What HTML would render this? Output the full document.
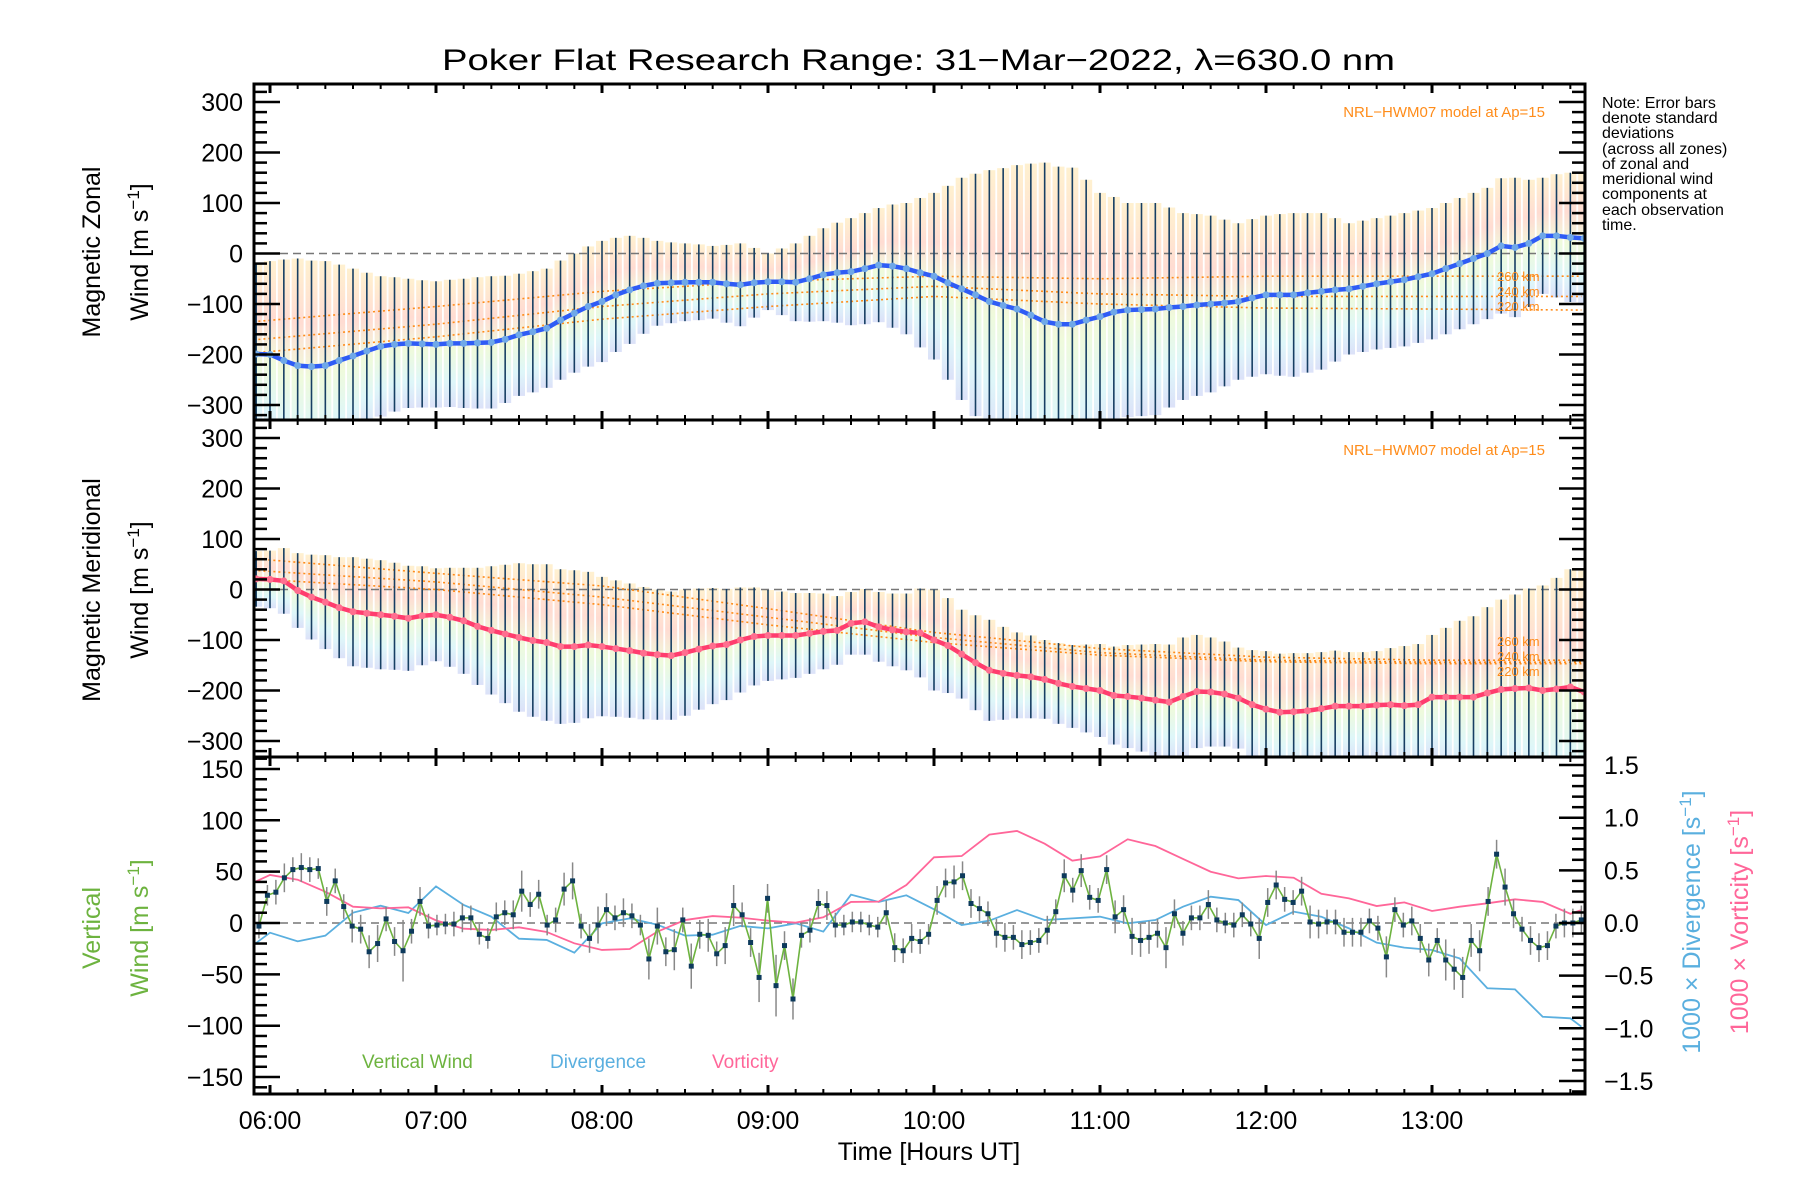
<!DOCTYPE html>
<html><head><meta charset="utf-8"><style>
html,body{margin:0;padding:0;background:#fff;}
svg{display:block;font-family:"Liberation Sans",sans-serif;}
</style></head><body>
<svg id="chart" width="1800" height="1200" viewBox="0 0 1800 1200" xmlns="http://www.w3.org/2000/svg">
<defs>
<clipPath id="clipTop"><rect x="254" y="84" width="1331" height="336"/></clipPath>
<clipPath id="clipMid"><rect x="254" y="420" width="1331" height="337"/></clipPath>
<clipPath id="clipBot"><rect x="254" y="757" width="1331" height="337"/></clipPath>
<linearGradient id="pastel" x1="0" y1="0" x2="0" y2="1">
<stop offset="0" stop-color="#ffe3a0"/><stop offset="0.3" stop-color="#ffb9a6"/><stop offset="0.55" stop-color="#dff5b8"/><stop offset="0.8" stop-color="#bdeef3"/><stop offset="1" stop-color="#b9c3f2"/>
</linearGradient>
</defs>
<text x="442" y="70" font-size="30" textLength="953" lengthAdjust="spacingAndGlyphs">Poker Flat Research Range: 31−Mar−2022, λ=630.0 nm</text>
<g id="gTop"></g>
<g id="gMid"></g>
<g id="gBot"></g>
<g id="gAxes"></g>
<text transform="translate(100,252) rotate(-90)" text-anchor="middle" font-size="25">Magnetic Zonal</text>
<text transform="translate(148,252) rotate(-90)" text-anchor="middle" font-size="25">Wind [m s<tspan baseline-shift="super" font-size="17">−1</tspan>]</text>
<text transform="translate(100,590) rotate(-90)" text-anchor="middle" font-size="25">Magnetic Meridional</text>
<text transform="translate(148,590) rotate(-90)" text-anchor="middle" font-size="25">Wind [m s<tspan baseline-shift="super" font-size="17">−1</tspan>]</text>
<text transform="translate(100,928) rotate(-90)" text-anchor="middle" font-size="25" fill="#6db33f">Vertical</text>
<text transform="translate(148,928) rotate(-90)" text-anchor="middle" font-size="25" fill="#6db33f">Wind [m s<tspan baseline-shift="super" font-size="17">−1</tspan>]</text>
<text transform="translate(1700,922) rotate(-90)" text-anchor="middle" font-size="25" fill="#5aafdf">1000 × Divergence [s<tspan baseline-shift="super" font-size="17">−1</tspan>]</text>
<text transform="translate(1748,922) rotate(-90)" text-anchor="middle" font-size="25" fill="#ff6699">1000 × Vorticity [s<tspan baseline-shift="super" font-size="17">−1</tspan>]</text>
<text x="929" y="1160" text-anchor="middle" font-size="25">Time [Hours UT]</text>
<text x="1545" y="117" text-anchor="end" font-size="15" fill="#ff8c1a">NRL−HWM07 model at Ap=15</text>
<text x="1545" y="455" text-anchor="end" font-size="15" fill="#ff8c1a">NRL−HWM07 model at Ap=15</text>
<g font-size="16">
<text x="1602" y="108">Note: Error bars</text>
<text x="1602" y="123">denote standard</text>
<text x="1602" y="138">deviations</text>
<text x="1602" y="154">(across all zones)</text>
<text x="1602" y="169">of zonal and</text>
<text x="1602" y="184">meridional wind</text>
<text x="1602" y="199">components at</text>
<text x="1602" y="215">each observation</text>
<text x="1602" y="230">time.</text>
</g>
<g font-size="19">
<text x="362" y="1068" fill="#6db33f">Vertical Wind</text>
<text x="550" y="1068" fill="#5aafdf">Divergence</text>
<text x="712" y="1068" fill="#ff6699">Vorticity</text>
</g>
</svg>
<script>
// ---- data (time in minutes after 06:00 UT) ----
const gridStart = -5, gridStep = 5;
const zonalMean = [-199,-200,-212,-222,-224,-222,-212,-203,-193,-184,-180,-178,-179,-180,-178,-178,-177,-176,-170,-161,-155,-148,-132,-118,-105,-95,-82,-72,-64,-59,-58,-57,-57,-57,-60,-62,-58,-56,-56,-57,-50,-42,-38,-36,-30,-23,-25,-30,-38,-45,-58,-70,-82,-95,-103,-110,-122,-135,-140,-140,-132,-125,-116,-112,-111,-110,-107,-105,-102,-100,-98,-95,-88,-82,-82,-82,-78,-75,-72,-70,-65,-60,-56,-52,-46,-40,-30,-20,-10,0,15,12,20,35,35,32,30];
const zonalStd = [180,185,200,212,210,207,190,173,155,139,133,128,126,125,126,128,130,131,126,121,120,118,118,118,119,120,113,107,95,84,80,77,75,72,77,82,69,56,66,77,85,92,99,106,110,113,122,130,148,165,192,220,240,260,272,285,300,315,312,310,278,245,228,212,211,210,198,185,180,175,165,155,156,157,160,162,158,155,142,130,130,130,131,132,131,130,130,130,130,130,134,138,126,115,122,128,130];
const meridMean = [21,20,17,-2,-15,-25,-36,-44,-47,-50,-53,-57,-52,-50,-55,-62,-73,-81,-88,-95,-101,-105,-113,-113,-110,-113,-117,-121,-126,-129,-131,-125,-118,-112,-109,-100,-93,-91,-91,-91,-87,-83,-81,-67,-64,-74,-80,-84,-86,-100,-111,-128,-145,-160,-166,-170,-173,-178,-186,-192,-196,-200,-210,-212,-215,-219,-223,-212,-202,-203,-207,-215,-228,-237,-243,-242,-240,-236,-231,-231,-231,-229,-228,-230,-228,-213,-213,-213,-213,-205,-198,-196,-195,-200,-197,-193,-203];
const meridStd = [55,57,65,74,84,93,100,108,108,108,106,104,98,92,98,105,116,127,137,147,151,155,153,151,145,138,135,133,131,129,127,125,120,115,110,104,97,90,87,84,80,75,68,62,65,69,72,76,88,100,94,88,94,100,92,85,82,78,80,82,87,92,97,102,106,111,114,117,112,108,104,100,108,115,116,116,114,112,110,107,107,107,112,118,120,123,137,151,160,170,178,186,197,208,220,233,240];
const modelTimes = [-6,60,120,180,240,300,360,420,474];
const zonalModel260 = [-135,-105,-75,-55,-45,-50,-45,-45,-45];
const zonalModel240 = [-171,-140,-105,-80,-65,-80,-85,-85,-85];
const zonalModel220 = [-197,-165,-130,-105,-85,-100,-108,-110,-112];
const meridModel260 = [61,32,7,-38,-85,-117,-134,-140,-140];
const meridModel240 = [38,15,-15,-55,-95,-125,-140,-144,-144];
const meridModel220 = [21,0,-30,-70,-105,-130,-143,-147,-147];
const vwStart = -4, vwStep = 3.064;
const vertWind = [-3,27,30,44,52,54,52,53,21,41,16,-3,-6,-28,-20,4,-18,-27,-8,21,-3,-2,-1,-1,5,5,-11,-15,6,10,8,31,18,28,-2,3,33,41,-3,-15,-2,13,5,10,7,-2,-35,-3,-28,-26,3,-42,-11,-12,-30,-22,17,8,-19,-53,24,-61,-22,-74,-12,-7,19,17,-2,-2,1,1,-2,-4,10,-24,-27,-15,-18,-11,22,39,
 40,46,19,14,9,-10,-14,-14,-21,-19,-17,-7,11,46,32,51,25,22,52,6,13,-13,-17,-14,-10,-24,9,-10,5,5,18,3,0,-2,8,-1,-15,20,37,23,20,31,1,-1,1,1,-9,-9,-9,2,-5,-33,13,-2,2,-15,-36,-17,-36,-45,-53,-17,-27,21,67,35,9,-6,-17,-24,-22,-3,0,0,3];
const vertStd = [12,10,12,14,12,14,12,10,14,12,12,16,14,16,18,12,14,30,12,14,12,10,10,12,14,12,10,10,14,12,14,20,12,14,10,12,16,18,12,14,18,16,12,14,12,10,20,18,14,20,12,22,14,16,12,18,20,12,14,24,14,30,14,20,12,12,14,14,12,10,10,10,10,10,12,14,12,14,12,10,14,14,
 16,14,14,12,12,14,14,12,14,12,12,14,12,16,12,16,12,12,14,16,14,18,16,16,14,20,14,12,12,12,14,12,10,12,12,12,20,14,14,12,12,14,16,14,12,12,14,14,14,12,12,20,12,12,14,14,16,12,20,20,20,16,20,14,14,18,14,12,14,14,14,12,14,14,14];
const divTimes = [-6,0,10,20,30,40,50,60,70,80,90,100,110,120,130,140,150,160,170,180,190,200,210,220,230,240,250,260,270,280,290,300,310,320,330,340,350,360,370,380,390,400,410,420,430,440,450,460,470,474];
const divergence = [-0.209,-0.092,-0.174,-0.12,0.098,0.164,0.095,0.348,0.171,0.06,-0.149,-0.161,-0.282,-0.003,0.044,-0.016,-0.12,-0.111,-0.028,-0.051,-0.003,-0.082,0.269,0.2,0.263,0.13,-0.019,0.022,0.123,0.028,0.044,0.06,-0.003,0.028,0.155,0.25,0.218,-0.019,0.108,0.06,-0.051,-0.187,-0.234,-0.256,-0.336,-0.62,-0.63,-0.89,-0.905,-0.985];
const vorticity = [0.383,0.456,0.411,0.297,0.155,0.139,0.149,0.025,-0.054,-0.066,-0.041,-0.085,-0.193,-0.256,-0.247,-0.082,0.028,0.066,0.051,0.022,0.003,0.054,0.2,0.203,0.361,0.624,0.636,0.839,0.874,0.753,0.592,0.633,0.795,0.731,0.608,0.487,0.424,0.446,0.43,0.278,0.234,0.161,0.196,0.114,0.155,0.187,0.225,0.2,0.088,0.123];
const hourLabels = ["06:00","07:00","08:00","09:00","10:00","11:00","12:00","13:00"];
const windTicks = [300,200,100,0,-100,-200,-300];
const vertTicks = [150,100,50,0,-50,-100,-150];
const rightTicks = [1.5,1.0,0.5,0.0,-0.5,-1.0,-1.5];

// ---- scales ----
const X0 = 254, X1 = 1585;
const xOf = t => 270 + t * 166 / 60;
const yTop = v => 253.5 - v * 0.505;
const yMid = v => 589.5 - v * 0.505;
const yBot = v => 923 - v * 1.027;
const yRight = v => 923 - v * 105.3;
const NS = "http://www.w3.org/2000/svg";
function mk(parent, tag, attrs) {
  const e = document.createElementNS(NS, tag);
  for (const k in attrs) e.setAttribute(k, attrs[k]);
  parent.appendChild(e);
  return e;
}
const fmt = v => (v < 0 ? "−" + Math.abs(v) : "" + v);

function windPanel(g, clip, yOf, mean, std, models, lineColor, dotColor, kmY, namePrefix) {
  const c = mk(g, "g", {"clip-path": "url(#" + clip + ")"});
  mean.forEach((m, i) => {
    const t = gridStart + i * gridStep;
    const r = mk(c, "rect", {x: xOf(t) - 6, y: yOf(m + std[i]), width: 12, height: yOf(m - std[i]) - yOf(m + std[i]), fill: "url(#pastel)", opacity: 0.5});
    
    
  });
  const z = mk(c, "line", {x1: X0, x2: X1, y1: yOf(0), y2: yOf(0), stroke: "#777", "stroke-width": 1.5, "stroke-dasharray": "8,5"});
  
  
  models.forEach((mv, j) => {
    const pts = mv.map((v, i) => xOf(modelTimes[i]) + "," + yOf(v)).join(" ");
    const pl = mk(c, "polyline", {points: pts, fill: "none", stroke: "#ff8c1a", "stroke-width": 1.6, "stroke-dasharray": "2,3"});
    
    
  });
  mean.forEach((m, i) => {
    const t = gridStart + i * gridStep;
    const l = mk(c, "line", {x1: xOf(t), x2: xOf(t), y1: yOf(m + std[i]), y2: yOf(m - std[i]), stroke: "#173f63", "stroke-width": 1.6});
    
    
  });
  const pts = mean.map((m, i) => xOf(gridStart + i * gridStep) + "," + yOf(m)).join(" ");
  const ml = mk(c, "polyline", {points: pts, fill: "none", stroke: lineColor, "stroke-width": 4.5});
  
  
  mean.forEach((m, i) => {
    const d = mk(c, "circle", {cx: xOf(gridStart + i * gridStep), cy: yOf(m), r: 3.5, fill: dotColor});
    
    
  });
  ["260 km", "240 km", "220 km"].forEach((s, j) => {
    const tx = mk(g, "text", {x: 1497, y: kmY + j * 15, "font-size": 13, fill: "#ff8c1a"});
    tx.textContent = s;
    
    
  });
}
windPanel(document.getElementById("gTop"), "clipTop", yTop, zonalMean, zonalStd, [zonalModel260, zonalModel240, zonalModel220], "#2f5cf5", "#6fa8e8", 281, "zonal");
windPanel(document.getElementById("gMid"), "clipMid", yMid, meridMean, meridStd, [meridModel260, meridModel240, meridModel220], "#ff3d6e", "#ff6f8f", 646, "meridional");

(function () {
  const g = document.getElementById("gBot");
  const c = mk(g, "g", {"clip-path": "url(#clipBot)"});
  const z = mk(c, "line", {x1: X0, x2: X1, y1: yBot(0), y2: yBot(0), stroke: "#777", "stroke-width": 1.5, "stroke-dasharray": "8,5"});
  
  
  const dv = mk(c, "polyline", {points: divergence.map((v, i) => xOf(divTimes[i]) + "," + yRight(v)).join(" "), fill: "none", stroke: "#5aafdf", "stroke-width": 1.8});
  
  
  const vo = mk(c, "polyline", {points: vorticity.map((v, i) => xOf(divTimes[i]) + "," + yRight(v)).join(" "), fill: "none", stroke: "#ff6699", "stroke-width": 1.8});
  
  
  vertWind.forEach((v, i) => {
    const x = xOf(vwStart + i * vwStep);
    const e = mk(c, "line", {x1: x, x2: x, y1: yBot(v + vertStd[i]), y2: yBot(v - vertStd[i]), stroke: "#888", "stroke-width": 1.5});
    
    
  });
  const vl = mk(c, "polyline", {points: vertWind.map((v, i) => xOf(vwStart + i * vwStep) + "," + yBot(v)).join(" "), fill: "none", stroke: "#6db33f", "stroke-width": 1.6});
  
  
  vertWind.forEach((v, i) => {
    const p = mk(c, "rect", {x: xOf(vwStart + i * vwStep) - 2.5, y: yBot(v) - 2.5, width: 5, height: 5, fill: "#0d3a5c"});
    
    
  });
})();

(function () {
  const g = document.getElementById("gAxes");
  const panels = [[84, 420], [420, 757], [757, 1094]];
  panels.forEach(([top, bot]) => {
    const r = mk(g, "rect", {x: X0, y: top, width: X1 - X0, height: bot - top, fill: "none", stroke: "#000", "stroke-width": 3});
    
    
    for (let t = 0; t <= 470; t += 10) {
      const x = xOf(t);
      if (x < X0 || x > X1) continue;
      const len = t % 60 === 0 ? 9 : 5;
      mk(g, "line", {x1: x, x2: x, y1: top, y2: top + len, stroke: "#000", "stroke-width": t % 60 === 0 ? 3 : 2});
      mk(g, "line", {x1: x, x2: x, y1: bot, y2: bot - len, stroke: "#000", "stroke-width": t % 60 === 0 ? 3 : 2});
    }
  });
  [yTop, yMid].forEach((yOf, pi) => {
    const top = panels[pi][0], bot = panels[pi][1];
    for (let v = -340; v <= 340; v += 20) {
      const y = yOf(v);
      if (y <= top + 1 || y >= bot - 1) continue;
      const major = v % 100 === 0;
      const len = major ? 26 : 13;
      mk(g, "line", {x1: X0, x2: X0 + len, y1: y, y2: y, stroke: "#000", "stroke-width": 2.5});
      mk(g, "line", {x1: X1, x2: X1 - len, y1: y, y2: y, stroke: "#000", "stroke-width": 2.5});
    }
    windTicks.forEach(v => {
      const tx = mk(g, "text", {x: 243, y: yOf(v) + 9, "text-anchor": "end", "font-size": 25});
      tx.textContent = fmt(v);
      
      
    });
  });
  for (let v = -170; v <= 160; v += 10) {
    const y = yBot(v);
    if (y <= 758 || y >= 1093) continue;
    const len = v % 50 === 0 ? 26 : 13;
    mk(g, "line", {x1: X0, x2: X0 + len, y1: y, y2: y, stroke: "#000", "stroke-width": 2.5});
  }
  vertTicks.forEach(v => {
    const tx = mk(g, "text", {x: 243, y: yBot(v) + 9, "text-anchor": "end", "font-size": 25});
    tx.textContent = fmt(v);
    
    
  });
  for (let k = -16; k <= 15; k++) {
    const v = k / 10;
    const y = yRight(v);
    if (y <= 758 || y >= 1093) continue;
    const len = k % 5 === 0 ? 26 : 13;
    mk(g, "line", {x1: X1, x2: X1 - len, y1: y, y2: y, stroke: "#000", "stroke-width": 2.5});
  }
  rightTicks.forEach(v => {
    const tx = mk(g, "text", {x: 1604, y: yRight(v) + 9, "font-size": 25});
    tx.textContent = (v < 0 ? "−" : "") + Math.abs(v).toFixed(1);
    
    
  });
  hourLabels.forEach((s, i) => {
    const tx = mk(g, "text", {x: xOf(i * 60), y: 1129, "text-anchor": "middle", "font-size": 25});
    tx.textContent = s;
    
    
  });
})();
</script>
</body></html>
